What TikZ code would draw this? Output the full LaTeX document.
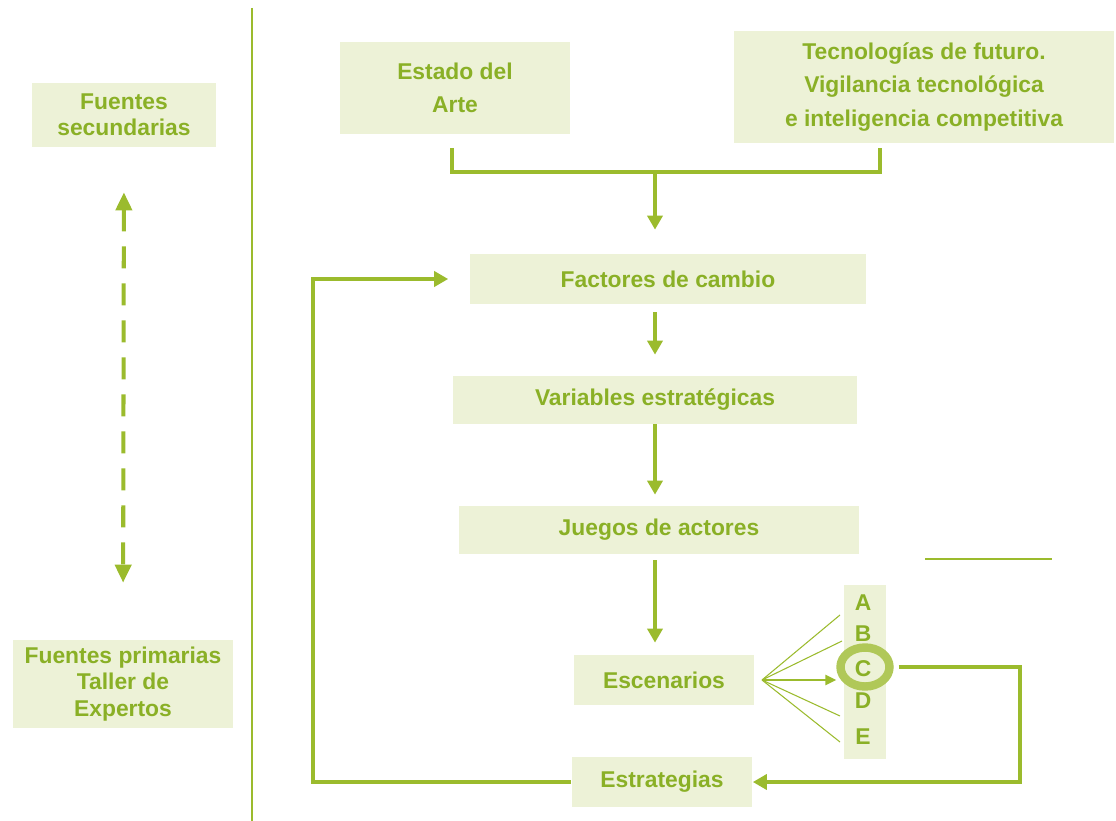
\documentclass[tikz,border=0pt]{standalone}
\usepackage{fontspec}
\setmainfont{Liberation Sans}
\usetikzlibrary{positioning,arrows.meta,shapes.geometric}
\definecolor{textgreen}{RGB}{138,176,38}
\definecolor{linegreen}{RGB}{155,187,45}
\definecolor{boxfill}{RGB}{237,242,215}
\definecolor{ringgreen}{RGB}{176,200,88}
\tikzset{
	box/.style={fill=boxfill, text=textgreen, align=center, inner sep=0pt,
		font=\bfseries\fontsize{13}{15}\selectfont},
	tall/.style={font=\bfseries\fontsize{13}{19}\selectfont},
	letter/.style={text=textgreen, inner sep=0pt, font=\bfseries\fontsize{13}{15}\selectfont},
	link/.style={draw=linegreen, line width=2.3pt},
	flow/.style={link, -{Triangle[length=0.28cm,width=0.3cm]}},
	fan/.style={draw=linegreen, line width=0.6pt},
}

\begin{document}
\begin{tikzpicture}[x=0.02cm, y=-0.02cm]
		\useasboundingbox (0,0) rectangle (1116,821);
		\draw [draw=linegreen, line width=1.1pt] (252,8) -- (252,821);
		\node (fs) [box, minimum width=3.7cm, minimum height=1.28cm] at (124,115) {Fuentes\\secundarias};
		\node (fp) [box, minimum width=4.4cm, minimum height=1.76cm] at (123,684) {Fuentes primarias\\Taller de\\Expertos};
		\draw [link, dash pattern=on 0.44cm off 0.3cm,
			{Triangle[length=0.36cm,width=0.32cm]}-{Triangle[length=0.36cm,width=0.32cm]},
			shorten <=0.9cm, shorten >=1.14cm] (fs.south) -- (fp.north);

		\node (ea) [box, tall, minimum width=4.6cm, minimum height=1.84cm] at (455,88) {Estado del\\Arte};
		\node (tf) [box, tall, minimum width=7.6cm, minimum height=2.26cm] at (924,87) {Tecnologías de futuro.\\Vigilancia tecnológica\\e inteligencia competitiva};
		\node (fc) [box, minimum width=7.94cm, minimum height=1.0cm] at (668,279) {Factores de cambio};
		\node (ve) [box, minimum width=8.08cm, minimum height=0.96cm] at (655,400) {Variables estratégicas};
		\node (ja) [box, minimum width=8.0cm, minimum height=0.96cm] at (659,530) {Juegos de actores};
		\node (es) [box, minimum width=3.6cm, minimum height=1.0cm] at (664,680) {Escenarios};
		\node (et) [box, minimum width=3.62cm, minimum height=1.0cm] at (662,782) {Estrategias};

		\coordinate (j)  at (655,172);
		\coordinate (ea-b) at (452,148);
		\coordinate (tf-b) at (880,148);
		\draw [link] (ea-b) |- (j) -| (tf-b);
		\draw [flow, shorten >=0.48cm] (j) -- (j |- fc.north);
		\draw [flow, shorten <=0.16cm, shorten >=0.42cm] (j |- fc.south) -- (j |- ve.north);
		\draw [flow, shorten >=0.22cm] (j |- ve.south) -- (j |- ja.north);
		\draw [flow, shorten <=0.12cm, shorten >=0.24cm] (j |- ja.south) -- (j |- es.north);

		\node (col) [fill=boxfill, minimum width=0.84cm, minimum height=3.5cm] at (865,672) {};
		\node (cr) [ellipse, draw=ringgreen, line width=4.8pt, minimum width=0.98cm, minimum height=0.78cm] at (865,667) {};
		\node (A) [letter] at (863,603) {A};
		\node (B) [letter, below=0.28cm of A] {B};
		\node (C) [letter, below=0.38cm of B] {C};
		\node (D) [letter, below=0.30cm of C] {D};
		\node (E) [letter, below=0.40cm of D] {E};

		\coordinate (o)  at (762,680);
		\coordinate (fa) at (840,615);
		\coordinate (fb) at (842,641);
		\coordinate (fd) at (840,716);
		\coordinate (fe) at (840,742);
		\draw [fan] (o) -- (fa);
		\draw [fan] (o) -- (fb);
		\draw [fan] (o) -- (fd);
		\draw [fan] (o) -- (fe);
		\draw [draw=linegreen, line width=1.4pt, -{Triangle[length=0.22cm,width=0.2cm]}] (o) -- (o -| cr.west);

		\coordinate (k) at (1020,720);
		\coordinate (f) at (313,500);
		\draw [flow, shorten <=0.1cm] (cr.east) -| (k) |- (et.east);
		\draw [flow, shorten >=0.42cm] (et.west) -| (f) |- (fc.west);
		\draw [draw=linegreen, line width=1.1pt] (925,559) -- (1052,559);
\end{tikzpicture}
\end{document}
